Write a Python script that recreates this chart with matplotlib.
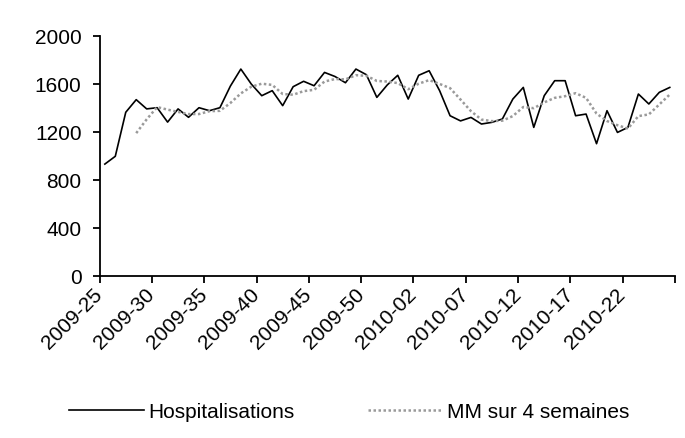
import numpy as np
import matplotlib
matplotlib.use("Agg")
import matplotlib.pyplot as plt

plt.rcParams['font.family'] = ['Liberation Sans', 'DejaVu Sans']

# semaines 2009-25 -> 2010-26 (2009 a 53 semaines)
weeks = ['2009-%02d' % w for w in range(25, 54)] + ['2010-%02d' % w for w in range(1, 27)]

# hospitalisations hebdomadaires
hosp = [930, 995, 1362, 1467, 1390, 1400, 1280, 1390, 1320, 1400,
        1375, 1400, 1580, 1722, 1597, 1500, 1542, 1417, 1575, 1620,
        1583, 1694, 1660, 1608, 1722, 1675, 1486, 1590, 1670, 1472,
        1670, 1708, 1542, 1333, 1290, 1319, 1264, 1278, 1306, 1472,
        1569, 1236, 1500, 1625, 1625, 1333, 1347, 1100, 1375, 1194,
        1236, 1514, 1431, 1528, 1569]

# moyenne mobile 4 semaines (a partir de la 4e semaine)
mm = [1188, 1303, 1405, 1384, 1365, 1347, 1347, 1371, 1374, 1439,
      1519, 1575, 1600, 1590, 1514, 1508, 1538, 1549, 1618, 1639,
      1636, 1671, 1666, 1623, 1618, 1605, 1554, 1600, 1630, 1598,
      1563, 1468, 1371, 1301, 1288, 1292, 1330, 1406, 1396, 1444,
      1482, 1496, 1521, 1482, 1351, 1289, 1254, 1226, 1330, 1344,
      1427, 1510]

yticks = [0, 400, 800, 1200, 1600, 2000]

fig = plt.figure(figsize=(6.85, 4.39), dpi=100)
ax = fig.add_axes([0.1454, 0.3697, 0.84, 0.5467])

x = np.arange(len(weeks))
ax.plot(x, hosp, color='black', lw=1.2, label='Hospitalisations')
ax.plot(x[3:], mm, color='#9a9a9a', lw=1.8, dashes=(1, 1), label='MM sur 4 semaines')

ax.set_xlim(-0.5, len(weeks) - 0.5)
ax.set_ylim(0, 2000)
ax.set_yticks(yticks)
ax.set_yticklabels([str(v) for v in yticks], fontsize=15)

# graduations entre les categories, une etiquette toutes les 5 semaines
ticks = np.arange(-0.5, len(weeks), 5)
labels = [weeks[i] for i in range(0, len(weeks), 5)][:len(ticks)]
labels = labels + [''] * (len(ticks) - len(labels))
if len(ticks) == 11:
    ticks = np.append(ticks, len(weeks) - 0.5)
    labels.append('')
ax.set_xticks(ticks)
ax.set_xticklabels(labels, rotation=45, ha='right', va='center',
                   rotation_mode='anchor', fontsize=15)

for s in ['top', 'right']:
    ax.spines[s].set_visible(False)
for s in ['left', 'bottom']:
    ax.spines[s].set_linewidth(1.3)
ax.tick_params(axis='both', direction='out', length=5, width=1.3)
ax.tick_params(axis='y', pad=8)
ax.tick_params(axis='x', pad=6)

fig.legend(loc='center', bbox_to_anchor=(0.51, 0.06), ncol=2, frameon=False,
           fontsize=15, handlelength=3.6, handletextpad=0.2, columnspacing=3.5)

fig.savefig('out.png', dpi=100)
